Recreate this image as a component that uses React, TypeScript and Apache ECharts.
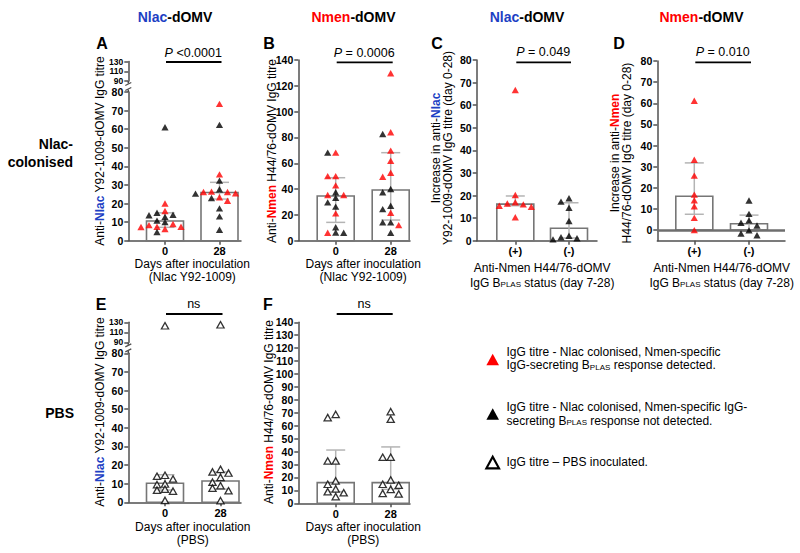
import React, { useEffect, useRef } from 'react';
import * as echarts from 'echarts';

const FONT = '"Liberation Sans", Arial, Helvetica, sans-serif';
const RED = '#ff0000';
const BLUE = '#1d3fc4';
const AXIS = '#505050';
const BAR_EDGE = '#767676';
const ERR = '#b4b4b4';
const BAR_W = 37;
const CAP_W = 19;

// ---- categories & tick labels ----
const dayCategories = ['0', '28'];
const statusCategories = ['(+)', '(-)'];
const ticks0to80 = [0, 10, 20, 30, 40, 50, 60, 70, 80];
const ticksBreak = [90, 110, 130];
const ticksB = [0, 20, 40, 60, 80, 100, 120, 140];
const ticksF = [0, 10, 20, 30, 40, 50, 60, 70, 80, 90, 100, 110, 120, 130, 140];

// ---- Panel A: anti-Nlac Y92-1009-dOMV IgG titre (Nlac colonised) ----
const aDay0Red = [20, 16, 9, 8.4, 7.5, 7.5, 7.4, 6.3];
const aDay0Black = [61, 15, 14, 13.7, 12.8, 10.8, 10, 4.7];
const aDay28Red = [73.6, 35.7, 26.4, 26.2, 26.2, 25.5, 23.4, 21.5];
const aDay28Black = [62.3, 32.3, 27.7, 25.3, 23, 17.4, 13.1, 5.9];
const aMedian = [10.6, 25.9];
const aQ1 = [7.2, 22.4];
const aQ3 = [15, 31.4];

// ---- Panel B: anti-Nmen H44/76-dOMV IgG titre (Nlac colonised) ----
const bDay0Red = [68.2, 50, 50, 42.9, 35.4, 35.4, 21.2, 6.2];
const bDay0Black = [68.2, 37.5, 33.3, 29.7, 26.4, 10.4, 6.3, 6.2];
const bDay28Red = [129.7, 84, 69.8, 62, 52.7, 49.6, 21.7, 12.1];
const bDay28Black = [82.7, 40, 37.5, 27.1, 24.5, 14.2, 14.2, 6.2];
const bMedian = [34.6, 39.3];
const bQ1 = [14.2, 16];
const bQ3 = [48.8, 68.2];

// ---- Panel C: increase in anti-Nlac titre ----
const cPositive = [66.7, 20.2, 17, 16.5, 16.1, 15.5, 15, 10.4];
const cNegative = [18.8, 17.3, 14.6, 8.7, 2.2, 1.5, 1.1, 0.6];
const cMedian = [16.2, 5.5];
const cQ1 = [15.5, 1.2];
const cQ3 = [19.8, 16.8];

// ---- Panel D: increase in anti-Nmen titre ----
const dPositive = [61.2, 33.3, 25.8, 16.8, 14.1, 11.3, 5.8, 0];
const dNegative = [14, 7.7, 4.6, 3.5, 2.2, -0.1, -1.6, -2.4];
const dMedian = [16, 3.0];
const dQ1 = [7.5, -0.5];
const dQ3 = [31.8, 7.1];

// ---- Panel E: anti-Nlac titre (PBS) ----
const eDay0 = [123, 14.5, 14, 12.5, 9.8, 9.5, 7, 6.5, 6, 1];
const eDay28 = [125, 17.7, 16.3, 15.7, 13.4, 10.8, 8.9, 7.6, 6.2, 0.9];
const eMedian = [10.2, 11.4];
const eQ1 = [6.6, 7.1];
const eQ3 = [14.8, 16.3];

// ---- Panel F: anti-Nmen titre (PBS) ----
const fDay0 = [68.8, 66.3, 32.7, 32.7, 17.3, 14.7, 11.1, 9, 8.2, 5.2];
const fDay28 = [70.9, 65, 35.6, 35.6, 18, 14.7, 14, 10.8, 7.7, 7.2];
const fMedian = [16, 16];
const fQ1 = [9, 10.8];
const fQ3 = [41.2, 43.6];

type Kind = 'red' | 'black' | 'open';
interface Pt { v: number; kind: Kind }
interface Segment { top: number; bottom: number; min: number; max: number; ticks: number[]; lower: boolean }
interface Panel {
  left: number; right: number; c0: number; c1: number; cats: string[];
  segments: Segment[]; columns: Pt[][];
  median: number[]; q1: number[]; q3: number[]; zeroLine?: boolean;
}

const pts = (vals: number[], kind: Kind): Pt[] => vals.map((v) => ({ v, kind }));

const panels: Panel[] = [
  {
    left: 128.3, right: 241, c0: 165, c1: 219.5, cats: dayCategories,
    segments: [
      { top: 92, bottom: 240.7, min: 0, max: 80, ticks: ticks0to80, lower: true },
      { top: 61.5, bottom: 81, min: 90, max: 130, ticks: ticksBreak, lower: false },
    ],
    columns: [pts(aDay0Red, 'red').concat(pts(aDay0Black, 'black')), pts(aDay28Red, 'red').concat(pts(aDay28Black, 'black'))],
    median: aMedian, q1: aQ1, q3: aQ3,
  },
  {
    left: 298.3, right: 410, c0: 335.7, c1: 390.7, cats: dayCategories,
    segments: [{ top: 60, bottom: 240.7, min: 0, max: 140, ticks: ticksB, lower: true }],
    columns: [pts(bDay0Red, 'red').concat(pts(bDay0Black, 'black')), pts(bDay28Red, 'red').concat(pts(bDay28Black, 'black'))],
    median: bMedian, q1: bQ1, q3: bQ3,
  },
  {
    left: 476.7, right: 597, c0: 515.3, c1: 569, cats: statusCategories,
    segments: [{ top: 60, bottom: 240.7, min: 0, max: 80, ticks: ticks0to80, lower: true }],
    columns: [pts(cPositive, 'red'), pts(cNegative, 'black')],
    median: cMedian, q1: cQ1, q3: cQ3,
  },
  {
    left: 657.3, right: 785, c0: 694.3, c1: 749, cats: statusCategories,
    segments: [{ top: 61, bottom: 240.7, min: -5, max: 80, ticks: ticks0to80, lower: true }],
    columns: [pts(dPositive, 'red'), pts(dNegative, 'black')],
    median: dMedian, q1: dQ1, q3: dQ3, zeroLine: true,
  },
  {
    left: 128.3, right: 241, c0: 165, c1: 220.5, cats: dayCategories,
    segments: [
      { top: 353.3, bottom: 502.3, min: 0, max: 80, ticks: ticks0to80, lower: true },
      { top: 322.3, bottom: 342.3, min: 90, max: 130, ticks: ticksBreak, lower: false },
    ],
    columns: [pts(eDay0, 'open'), pts(eDay28, 'open')],
    median: eMedian, q1: eQ1, q3: eQ3,
  },
  {
    left: 298.3, right: 410, c0: 335.7, c1: 390.7, cats: dayCategories,
    segments: [{ top: 322.3, bottom: 503.3, min: 0, max: 140, ticks: ticksF, lower: true }],
    columns: [pts(fDay0, 'open'), pts(fDay28, 'open')],
    median: fMedian, q1: fQ1, q3: fQ3,
  },
];

// simple column-scatter (beeswarm) spreading, in pixels
function swarm(vals: number[], pxPerUnit: number): number[] {
  const STEP = 8, ROW = 5.2;
  const order = vals.map((_, i) => i).sort((a, b) => vals[b] - vals[a]);
  const placed: { x: number; y: number }[] = [];
  const out = vals.map(() => 0);
  for (const i of order) {
    const y = vals[i] * pxPerUnit;
    for (let k = 0; k < 40; k++) {
      const m = k === 0 ? 0 : (k % 2 ? -1 : 1) * Math.ceil(k / 2);
      const x = m * STEP;
      if (placed.every((p) => Math.abs(p.x - x) > STEP * 0.9 || Math.abs(p.y - y) >= ROW)) {
        out[i] = x;
        placed.push({ x, y });
        break;
      }
    }
  }
  return out;
}

function pointStyle(kind: Kind) {
  if (kind === 'red') return { color: RED, borderWidth: 0 };
  if (kind === 'black') return { color: '#000', borderWidth: 0 };
  return { color: '#fff', borderColor: '#000', borderWidth: 1.3 };
}

function richFor(size: number, bold = false) {
  const w = bold ? 'bold' : 'normal';
  return {
    b: { fill: BLUE, fontWeight: 'bold', fontSize: size, fontFamily: FONT },
    r: { fill: RED, fontWeight: 'bold', fontSize: size, fontFamily: FONT },
    i: { fontStyle: 'italic', fontWeight: w, fontSize: size, fontFamily: FONT },
    sub: { fontSize: Math.round(size * 0.68), fontWeight: w, fontFamily: FONT, verticalAlign: 'bottom' },
  };
}

function txt(x: number, y: number, text: string, o: any = {}) {
  const size = o.size || 12;
  return {
    type: 'text', x, y, rotation: o.rot || 0, silent: true, z: 10,
    style: {
      text, fill: o.fill || '#000', fontFamily: FONT, fontSize: size,
      fontWeight: o.weight || 'normal',
      textAlign: o.align || 'center', align: o.align || 'center',
      textVerticalAlign: 'middle', verticalAlign: 'middle',
      lineHeight: o.lh, rich: richFor(size, o.weight === 'bold'),
    },
  };
}
function ln(x1: number, y1: number, x2: number, y2: number, color = '#000', w = 1.8) {
  return { type: 'line', silent: true, z: 10, shape: { x1, y1, x2, y2 }, style: { stroke: color, lineWidth: w } };
}

const tickLabelStyle = (size: number) => ({
  fontFamily: FONT, fontSize: size, fontWeight: 'bold', color: '#000',
});

function buildOption() {
  const grid: any[] = [], xAxis: any[] = [], yAxis: any[] = [], series: any[] = [];
  const graphic: any[] = [];

  panels.forEach((p) => {
    const unit = p.c1 - p.c0;
    const xmin = -(p.c0 - p.left) / unit;
    const xmax = 1 + (p.right - p.c1) / unit;
    p.segments.forEach((seg) => {
      const gi = grid.length;
      grid.push({ left: p.left, top: seg.top, width: p.right - p.left, height: seg.bottom - seg.top });
      const xi = xAxis.length;
      xAxis.push({
        gridIndex: gi, type: 'value', min: xmin, max: xmax, show: seg.lower, position: 'bottom',
        splitLine: { show: false },
        axisLine: { show: true, onZero: false, lineStyle: { color: AXIS, width: 1.5 } },
        axisTick: { show: true, customValues: [0, 1], length: 4, lineStyle: { color: AXIS, width: 1.5 } },
        axisLabel: {
          show: true, customValues: [0, 1], margin: 5, showMinLabel: true, showMaxLabel: true,
          formatter: (v: number) => p.cats[Math.round(v)] ?? '',
          ...tickLabelStyle(11),
        },
      });
      const yi = yAxis.length;
      const labelVals = seg.lower ? seg.ticks : [seg.ticks[0], seg.ticks[seg.ticks.length - 1]];
      const ySize = seg.lower ? 10.5 : 8.5;
      yAxis.push({
        gridIndex: gi, type: 'value', min: seg.min, max: seg.max, position: 'left',
        interval: seg.ticks[1] - seg.ticks[0],
        splitLine: { show: false },
        axisLine: { show: true, onZero: false, lineStyle: { color: AXIS, width: 1.5 } },
        axisTick: { show: true, customValues: seg.ticks, length: 4, lineStyle: { color: AXIS, width: 1.5 } },
        axisLabel: {
          show: true, customValues: labelVals, margin: 5,
          showMinLabel: true, showMaxLabel: true, hideOverlap: false,
          ...tickLabelStyle(ySize),
        },
      });
      if (!seg.lower) {
        // the tightly packed middle labels of the broken (upper) axis part
        yAxis.push({
          gridIndex: gi, type: 'value', min: seg.min, max: seg.max, position: 'left',
          splitLine: { show: false }, axisLine: { show: false, onZero: false }, axisTick: { show: false },
          axisLabel: {
            show: true, customValues: seg.ticks.slice(1, -1), margin: 5,
            showMinLabel: false, showMaxLabel: false, hideOverlap: false,
            ...tickLabelStyle(ySize),
          },
        });
      }

      if (seg.lower) {
        series.push({
          type: 'custom', xAxisIndex: xi, yAxisIndex: yi, z: 2, silent: true, clip: false,
          data: p.median.map((m, i) => [i, m]),
          renderItem: (_params: any, api: any) => {
            const i = api.value(0), v = api.value(1);
            const a = api.coord([i, v]);
            const b = api.coord([i, 0]);
            return {
              type: 'rect',
              shape: { x: a[0] - BAR_W / 2, y: Math.min(a[1], b[1]), width: BAR_W, height: Math.abs(b[1] - a[1]) },
              style: { fill: '#fff', stroke: BAR_EDGE, lineWidth: 1.6 },
            };
          },
        });
        series.push({
          type: 'custom', xAxisIndex: xi, yAxisIndex: yi, z: 3, silent: true, clip: false,
          encode: { x: 0, y: [1, 2] },
          data: p.q1.map((q, i) => [i, q, p.q3[i]]),
          renderItem: (_params: any, api: any) => {
            const i = api.value(0);
            const lo = api.coord([i, api.value(1)]);
            const hi = api.coord([i, api.value(2)]);
            const st = { stroke: ERR, lineWidth: 1.5 };
            return {
              type: 'group',
              children: [
                { type: 'line', shape: { x1: lo[0], y1: lo[1], x2: hi[0], y2: hi[1] }, style: st },
                { type: 'line', shape: { x1: lo[0] - CAP_W / 2, y1: lo[1], x2: lo[0] + CAP_W / 2, y2: lo[1] }, style: st },
                { type: 'line', shape: { x1: hi[0] - CAP_W / 2, y1: hi[1], x2: hi[0] + CAP_W / 2, y2: hi[1] }, style: st },
              ],
            };
          },
        });
      }

      const pxPerUnit = (seg.bottom - seg.top) / (seg.max - seg.min);
      const data: any[] = [];
      p.columns.forEach((col, ci) => {
        const inSeg = col.filter((pt) => (seg.lower ? pt.v <= seg.max : pt.v >= seg.min));
        const offs = swarm(inSeg.map((pt) => pt.v), pxPerUnit);
        inSeg.forEach((pt, k) => {
          data.push({ value: [ci, pt.v], symbolOffset: [offs[k], 0], itemStyle: pointStyle(pt.kind) });
        });
      });
      series.push({
        type: 'scatter', xAxisIndex: xi, yAxisIndex: yi, z: 5, silent: true, clip: false,
        symbol: 'triangle', symbolSize: [7.2, 6.4], data,
        markLine: p.zeroLine && seg.lower
          ? { silent: true, symbol: ['none', 'none'], label: { show: false },
              lineStyle: { color: '#6e6e6e', width: 2.5, type: 'solid' }, data: [{ yAxis: 0 }] }
          : undefined,
      });
    });

    // axis break marks
    if (p.segments.length > 1) {
      const up = p.segments[1], lo = p.segments[0];
      graphic.push(ln(p.left, up.bottom, p.left, up.bottom + 2.5, AXIS, 1.5));
      graphic.push(ln(p.left - 3, up.bottom + 4.5, p.left + 3, up.bottom + 1.5, AXIS, 1.3));
      graphic.push(ln(p.left - 3, lo.top - 1.5, p.left + 3, lo.top - 4.5, AXIS, 1.3));
      graphic.push(ln(p.left, lo.top - 2.5, p.left, lo.top, AXIS, 1.5));
    }
  });

  // column headers
  graphic.push(txt(175, 17, '{b|Nlac}-dOMV', { size: 14, weight: 'bold' }));
  graphic.push(txt(353.5, 17, '{r|Nmen}-dOMV', { size: 14, weight: 'bold' }));
  graphic.push(txt(527, 17, '{b|Nlac}-dOMV', { size: 14, weight: 'bold' }));
  graphic.push(txt(701.5, 17, '{r|Nmen}-dOMV', { size: 14, weight: 'bold' }));

  // row labels
  graphic.push(txt(73, 143.5, 'Nlac-', { size: 14, weight: 'bold', align: 'right' }));
  graphic.push(txt(73, 161.5, 'colonised', { size: 14, weight: 'bold', align: 'right' }));
  graphic.push(txt(74, 413, 'PBS', { size: 14, weight: 'bold', align: 'right' }));

  // panel letters
  [['A', 102, 43], ['B', 269, 43], ['C', 437, 43], ['D', 619, 43], ['E', 101, 304], ['F', 268, 304]].forEach(
    ([l, x, y]) => graphic.push(txt(x as number, y as number, l as string, { size: 16, weight: 'bold' }))
  );

  // significance
  const sig: [number, string, number, number][] = [
    [0, '{i|P} <0.0001', 52.5, 62],
    [1, '{i|P} = 0.0006', 52.5, 62.3],
    [2, '{i|P} = 0.049', 52, 62.3],
    [3, '{i|P} = 0.010', 52, 62.3],
    [4, 'ns', 304, 314],
    [5, 'ns', 304, 314],
  ];
  sig.forEach(([pi, t, ty, ly]) => {
    const p = panels[pi];
    const cx = (p.c0 + p.c1) / 2 + 1;
    graphic.push(txt(cx, ty, t, { size: 12.5 }));
    graphic.push(ln(p.c0 + 1, ly, p.c1 + 2, ly, '#000', 1.8));
  });

  // y-axis titles
  const R = Math.PI / 2;
  graphic.push(txt(100, 151, 'Anti-{b|Nlac} Y92-1009-dOMV IgG titre', { rot: R }));
  graphic.push(txt(272, 151, 'Anti-{r|Nmen} H44/76-dOMV IgG titre', { rot: R }));
  graphic.push(txt(442, 148, 'Increase in anti-{b|Nlac}\nY92-1009-dOMV IgG titre (day 0-28)', { rot: R, lh: 12 }));
  graphic.push(txt(621, 153, 'Increase in anti-{r|Nmen}\nH44/76-dOMV IgG titre (day 0-28)', { rot: R, lh: 12 }));
  graphic.push(txt(100, 412, 'Anti-{b|Nlac} Y92-1009-dOMV IgG titre', { rot: R }));
  graphic.push(txt(269, 412, 'Anti-{r|Nmen} H44/76-dOMV IgG titre', { rot: R }));

  // x-axis titles
  const mid = (i: number) => (panels[i].c0 + panels[i].c1) / 2;
  graphic.push(txt(mid(0), 263.5, 'Days after inoculation'));
  graphic.push(txt(mid(0), 277, '(Nlac Y92-1009)'));
  graphic.push(txt(mid(1), 263.5, 'Days after inoculation'));
  graphic.push(txt(mid(1), 277, '(Nlac Y92-1009)'));
  graphic.push(txt(mid(2), 267.5, 'Anti-Nmen H44/76-dOMV'));
  graphic.push(txt(mid(2), 282.5, 'IgG B{sub|PLAS} status (day 7-28)'));
  graphic.push(txt(mid(3), 267.5, 'Anti-Nmen H44/76-dOMV'));
  graphic.push(txt(mid(3), 282.5, 'IgG B{sub|PLAS} status (day 7-28)'));
  graphic.push(txt(mid(4), 526.5, 'Days after inoculation'));
  graphic.push(txt(mid(4), 539.5, '(PBS)'));
  graphic.push(txt(mid(5), 526.5, 'Days after inoculation'));
  graphic.push(txt(mid(5), 539.5, '(PBS)'));

  // legend
  const tri = (cx: number, cy: number, fill: string, stroke?: string) => ({
    type: 'polygon', silent: true, z: 10,
    shape: { points: [[cx - 6.3, cy + 5.8], [cx + 6.3, cy + 5.8], [cx, cy - 5.8]] },
    style: stroke ? { fill, stroke, lineWidth: 2.2 } : { fill },
  });
  graphic.push(tri(492.7, 359.5, RED));
  graphic.push(txt(506.5, 352.3, 'IgG titre - Nlac colonised, Nmen-specific', { align: 'left' }));
  graphic.push(txt(506.5, 365.3, 'IgG-secreting B{sub|PLAS} response detected.', { align: 'left' }));
  graphic.push(tri(492.7, 414, '#000'));
  graphic.push(txt(506.5, 407.3, 'IgG titre - Nlac colonised, Nmen-specific IgG-', { align: 'left' }));
  graphic.push(txt(506.5, 420.8, 'secreting B{sub|PLAS} response not detected.', { align: 'left' }));
  graphic.push(tri(492.7, 462.5, '#fff', '#000'));
  graphic.push(txt(506.5, 462, 'IgG titre \u2013 PBS inoculated.', { align: 'left' }));

  return { animation: false, backgroundColor: '#fff', grid, xAxis, yAxis, series, graphic };
}

export default function App() {
  const ref = useRef<HTMLDivElement>(null);
  useEffect(() => {
    document.body.style.margin = '0';
    const chart = echarts.init(ref.current!, null, { renderer: 'svg', width: 800, height: 553 });
    chart.setOption(buildOption() as any);
    return () => chart.dispose();
  }, []);
  return <div ref={ref} style={{ width: 800, height: 553, background: '#fff' }} />;
}
